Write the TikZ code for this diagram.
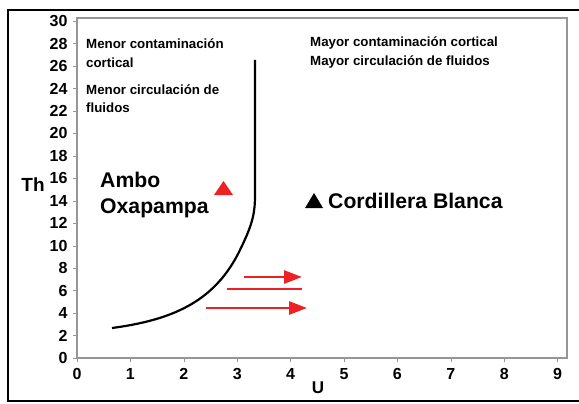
\documentclass[tikz,border=0pt]{standalone}
\usepackage{fontspec}
\setmainfont{Liberation Sans}
\usetikzlibrary{arrows.meta}
\definecolor{flowred}{RGB}{237,32,36}
\definecolor{axisgray}{RGB}{150,150,150}

\begin{document}
\begin{tikzpicture}[x=1pt,y=-1pt]

    \useasboundingbox (0,0) rectangle (579,404);

    % outer frame and plot frame
    \draw [line width=2.5pt] (579,10) -- (8,10) -- (8,401) -- (579,401);
    \draw [axisgray, line width=1.5pt] (77,18) rectangle (567,358);

    \begin{scope}[every node/.style={font=\bfseries\fontsize{16}{16}\selectfont}]
        % Th axis %
        \foreach \v in {0,2,...,30} {
            \draw [axisgray] (73,{358-11.23*\v}) -- (77,{358-11.23*\v});
            \node [anchor=east] at (71,{358-11.23*\v}) {\v};
        }
        % U axis %
        \foreach \u in {0,...,9} {
            \draw [axisgray] ({77+53.4*\u},358) -- ({77+53.4*\u},362);
            \node at ({77+53.4*\u},374) {\u};
        }
        \node [font=\bfseries\fontsize{19}{19}\selectfont] (th) at (33,185) {Th};
        \node [font=\bfseries\fontsize{17}{17}\selectfont] (u) at (318,388) {U};
    \end{scope}

    \begin{scope}[every node/.style={anchor=base west,inner sep=0pt,font=\bfseries\fontsize{13.3}{13.3}\selectfont}]
        \node (menor1) at (86,49) {Menor contaminación};
        \node (menor2) at (86,68) {cortical};
        \node (menor3) at (86,95) {Menor circulación de};
        \node (menor4) at (86,113) {fluidos};
        \node (mayor1) at (310,47) {Mayor contaminación cortical};
        \node (mayor2) at (310,66) {Mayor circulación de fluidos};
    \end{scope}

    \begin{scope}[every node/.style={anchor=base west,inner sep=0pt,font=\bfseries\fontsize{21.2}{21.2}\selectfont}]
        \node (ambo) at (100,187) {Ambo};
        \node (oxa) at (100,213) {Oxapampa};
        \node (cb) at (328,208) {Cordillera Blanca};
    \end{scope}

    % symbols
    \fill [flowred] (214,195) -- (233,195) -- (223.5,181) -- cycle;
    \fill [black] (305,208) -- (323,208) -- (314,193) -- cycle;

    % boundary curve
    \draw [line width=2.2pt] (112,328) .. controls (172,320) and (213,302) .. (238,254)
        .. controls (252,226) and (255,215) .. (255,195) -- (255,60);

    % flow arrows
    \coordinate (a1s) at (244,277);
    \coordinate (a1e) at (302,277);
    \coordinate (a2s) at (227,289);
    \coordinate (a2e) at (302,289);
    \coordinate (a3s) at (206,308);
    \coordinate (a3e) at (307,308);

    \begin{scope}[every edge/.style={draw=flowred,line width=2.8pt}]
        \path [-{Triangle[length=18pt,width=13pt]}] (a1s) edge (a1e);
        \path (a2s) edge (a2e);
        \path [-{Triangle[length=18pt,width=13pt]}] (a3s) edge (a3e);
    \end{scope}

\end{tikzpicture}
\end{document}
